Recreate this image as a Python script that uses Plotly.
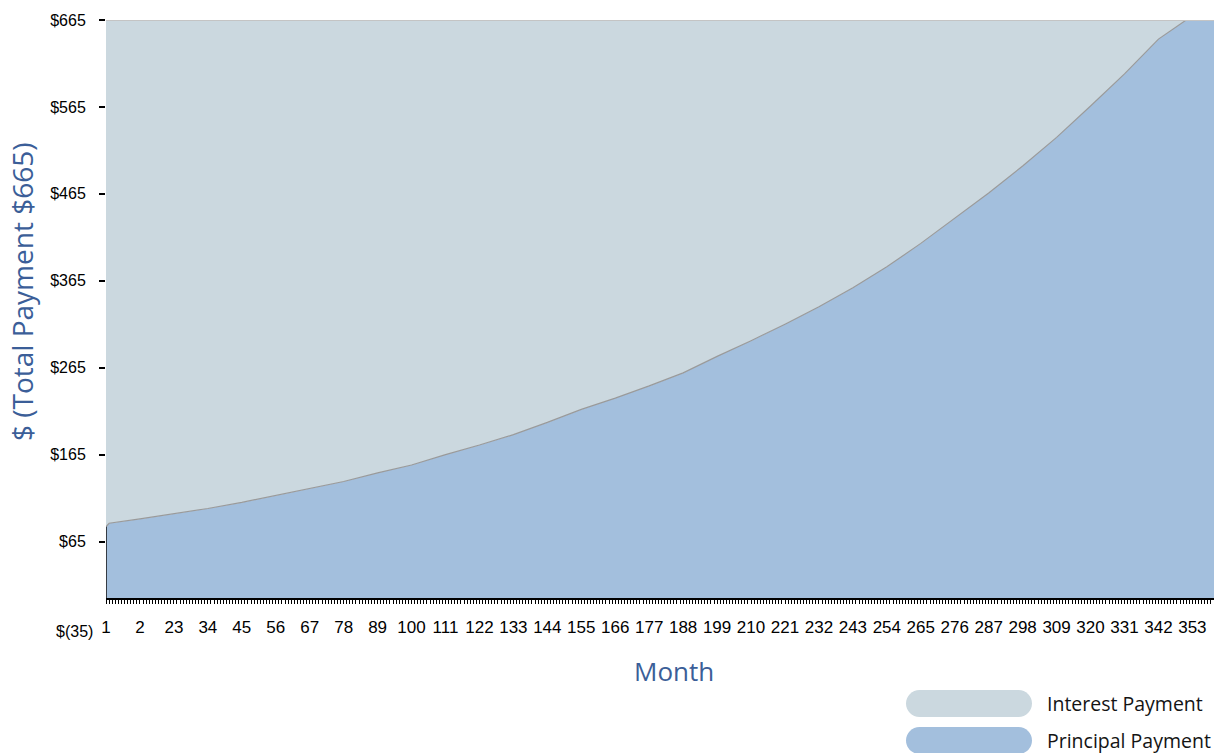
import plotly.graph_objects as go

# Monthly loan payment split: principal vs. interest (fixed total payment)
TOTAL_PAYMENT = 665

months = [1, 2, 12, 23, 34, 45, 56, 67, 78, 89, 100, 111, 122, 133, 144, 155,
          166, 177, 188, 199, 210, 221, 232, 243, 254, 265, 276, 287, 298,
          309, 320, 331, 342, 351, 360]
principal = [82, 86, 91, 97, 103, 110, 118, 126, 134, 144, 153, 165, 176, 188,
             202, 217, 230, 244, 259, 278, 296, 315, 335, 357, 381, 408, 437,
             466, 497, 530, 566, 603, 643, 665, 665]
interest = [TOTAL_PAYMENT - p for p in principal]

x_tick_vals = list(range(1, 361, 11))
x_tick_text = [str(v) for v in x_tick_vals]
x_tick_text[1] = "2"
y_tick_vals = [65, 165, 265, 365, 465, 565, 665]
y_tick_text = ["$" + str(v) for v in y_tick_vals]

PRINCIPAL_COLOR = "#a3bfdd"
INTEREST_COLOR = "#cbd8df"
TITLE_COLOR = "#3b5e98"
TITLE_FONT = "Open Sans"

W, H = 1214, 753
ML, MR, MT, MB = 106, 0, 20, 155
PW, PH = W - ML - MR, H - MT - MB

fig = go.Figure()
fig.add_trace(go.Scatter(
    x=months, y=principal, name="Principal Payment", stackgroup="pay",
    mode="lines", line=dict(color="#9a9a9a", width=1.2),
    fillcolor=PRINCIPAL_COLOR, hoverinfo="x+y"))
fig.add_trace(go.Scatter(
    x=months, y=interest, name="Interest Payment", stackgroup="pay",
    mode="lines", line=dict(color="#c4c4c4", width=2),
    fillcolor=INTEREST_COLOR, hoverinfo="x+y"))
# left edge of the principal band
fig.add_trace(go.Scatter(
    x=[months[0], months[0]], y=[0, principal[0]], mode="lines",
    line=dict(color="#111111", width=1.5), hoverinfo="skip"))


def px2paper(px, py):
    return (px - ML) / PW, (MT + PH - py) / PH


def pill_path(x0, y0, x1, y1):
    r = (y1 - y0) / 2.0
    k = 0.5523 * r

    def P(x, y):
        a, b = px2paper(x, y)
        return f"{a:.5f},{b:.5f}"
    d = f"M{P(x0 + r, y0)} L{P(x1 - r, y0)} "
    d += f"C{P(x1 - r + k, y0)} {P(x1, y0 + r - k)} {P(x1, y0 + r)} "
    d += f"C{P(x1, y0 + r + k)} {P(x1 - r + k, y1)} {P(x1 - r, y1)} "
    d += f"L{P(x0 + r, y1)} "
    d += f"C{P(x0 + r - k, y1)} {P(x0, y0 + r + k)} {P(x0, y0 + r)} "
    d += f"C{P(x0, y0 + r - k)} {P(x0 + r - k, y0)} {P(x0 + r, y0)} Z"
    return d


legend_items = [("Interest Payment", INTEREST_COLOR, 690, 717),
                ("Principal Payment", PRINCIPAL_COLOR, 727, 754)]
shapes = []
annotations = []
for label, color, ty, by in legend_items:
    shapes.append(dict(type="path", xref="paper", yref="paper",
                       path=pill_path(906, ty, 1032, by),
                       fillcolor=color, line=dict(width=0), layer="above"))
    lx, ly = px2paper(1045, (ty + by) / 2.0)
    annotations.append(dict(x=lx, y=ly, xref="paper", yref="paper",
                            text=label, showarrow=False, xanchor="left",
                            yanchor="middle",
                            font=dict(family=TITLE_FONT, size=19.5,
                                      color="#141414")))

# axis titles
mx, my = px2paper(674, 671)
annotations.append(dict(x=mx, y=my, xref="paper", yref="paper", text="Month",
                        showarrow=False, xanchor="center", yanchor="middle",
                        font=dict(family=TITLE_FONT, size=26,
                                  color=TITLE_COLOR)))
tx, ty_ = px2paper(22, 292)
annotations.append(dict(x=tx, y=ty_, xref="paper", yref="paper",
                        text="$ (Total Payment $665)", textangle=-90,
                        showarrow=False, xanchor="center", yanchor="middle",
                        font=dict(family=TITLE_FONT, size=28,
                                  color=TITLE_COLOR)))
# label for the -35 level below the axis
nx, ny = px2paper(95, 631)
annotations.append(dict(x=nx, y=ny, xref="paper", yref="paper", text="$(35)",
                        showarrow=False, xanchor="right", yanchor="middle",
                        font=dict(family="Liberation Sans, Arial", size=16,
                                  color="#000000")))

fig.update_layout(
    width=W, height=H,
    margin=dict(l=ML, r=MR, t=MT, b=MB),
    paper_bgcolor="white", plot_bgcolor="white",
    showlegend=False,
    shapes=shapes, annotations=annotations,
    font=dict(family="Liberation Sans, Arial", size=16, color="#000000"),
    xaxis=dict(range=[1, 360], tickvals=x_tick_vals, ticktext=x_tick_text,
               ticks="outside", ticklen=4, tickwidth=1, tickcolor="#000000",
               minor=dict(dtick=1, tick0=1, ticks="outside", ticklen=4,
                          tickwidth=1, tickcolor="#000000", showgrid=False),
               showline=True, linecolor="#000000", linewidth=1.5,
               showgrid=False, zeroline=False, ticklabelstandoff=9,
               tickfont=dict(size=17)),
    yaxis=dict(range=[0, 665], tickvals=y_tick_vals, ticktext=y_tick_text,
               ticks="outside", ticklen=6, tickwidth=1.5, tickcolor="#000000",
               showline=False, showgrid=False, zeroline=False,
               ticklabelstandoff=10, tickfont=dict(size=16)),
)

fig.write_html("out.html")
